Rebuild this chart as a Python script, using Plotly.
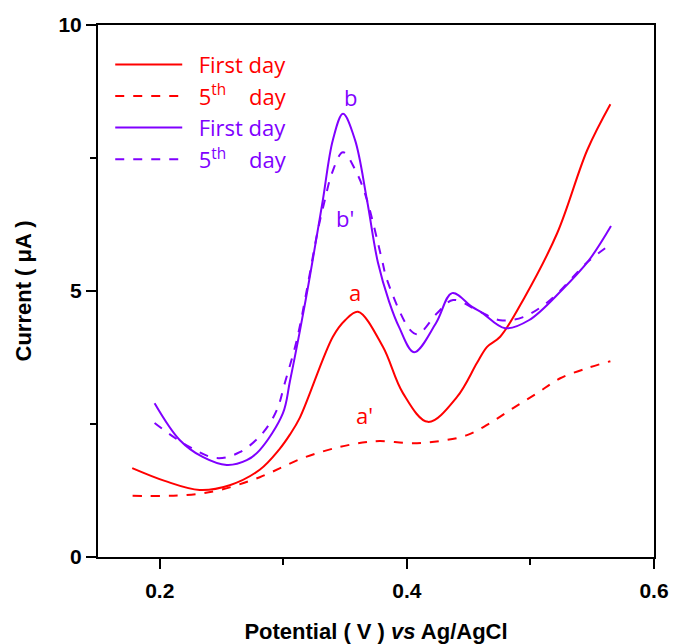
import plotly.graph_objects as go

RED = "#FF0000"
PURPLE = "#8000FF"

# Red solid (a) – first day
a_x = [0.1777, 0.204, 0.2323, 0.2566, 0.2809, 0.2966, 0.3053, 0.3134, 0.3401, 0.350, 0.3604,
       0.3806, 0.3968, 0.4171, 0.4406, 0.4568, 0.4649, 0.4755, 0.4950, 0.5217, 0.546, 0.5647]
a_y = [1.67, 1.43, 1.26, 1.35, 1.64, 2.02, 2.30, 2.62, 4.14, 4.45, 4.61,
       3.95, 3.08, 2.54, 3.01, 3.65, 3.95, 4.14, 4.87, 6.09, 7.65, 8.51]

# Red dashed (a') – 5th day
a2_x = [0.178, 0.2217, 0.2485, 0.2809, 0.3158, 0.3458, 0.3677, 0.378, 0.405, 0.4268,
        0.4487, 0.4674, 0.486, 0.5055, 0.5241, 0.546, 0.5647]
a2_y = [1.15, 1.165, 1.26, 1.50, 1.86, 2.07, 2.16, 2.18, 2.14, 2.18,
        2.29, 2.52, 2.80, 3.08, 3.36, 3.55, 3.68]

# Purple solid (b) – first day
b_x = [0.1958, 0.2161, 0.2347, 0.2542, 0.2704, 0.2809, 0.2996, 0.3053, 0.3134, 0.319,
       0.3239, 0.332, 0.3401, 0.3483, 0.358, 0.3677, 0.3766, 0.3856, 0.3937, 0.4058, 0.4236,
       0.4366, 0.4528, 0.4609, 0.4795, 0.4987, 0.5255, 0.5474, 0.5652]
b_y = [2.89, 2.20, 1.88, 1.73, 1.82, 2.01, 2.70, 3.30, 4.25, 4.95,
       5.60, 6.71, 7.84, 8.33, 7.84, 6.71, 5.53, 4.80, 4.32, 3.85, 4.40,
       4.96, 4.70, 4.59, 4.30, 4.45, 5.02, 5.58, 6.22]

# Purple dashed (b') – 5th day
b2_x = [0.1958, 0.2217, 0.246, 0.2647, 0.2833, 0.2947, 0.3012, 0.3109, 0.319, 0.3279,
        0.3336, 0.3393, 0.3483, 0.3596, 0.3677, 0.3799, 0.3839, 0.4026, 0.409, 0.4244,
        0.4374, 0.4568, 0.4755, 0.4941, 0.516, 0.546, 0.5638]
b2_y = [2.52, 2.10, 1.86, 1.97, 2.33, 2.76, 3.27, 4.08, 5.02, 6.14,
        6.71, 7.21, 7.61, 7.21, 6.71, 5.58, 5.21, 4.27, 4.19, 4.58,
        4.83, 4.64, 4.45, 4.51, 4.83, 5.54, 5.86]

curve_labels = ["a", "a'", "b", "b'"]
label_x = [0.358, 0.366, 0.354, 0.350]
label_y = [4.98, 2.67, 8.65, 6.37]
label_colors = [RED, RED, PURPLE, PURPLE]

legend_first = "&nbsp;&nbsp;First day"
legend_fifth = "&nbsp;&nbsp;5<sup>th</sup>&nbsp;&nbsp;&nbsp;&nbsp;day"

fig = go.Figure()
series = [
    (a_x, a_y, RED, "solid", legend_first),
    (a2_x, a2_y, RED, "dash", legend_fifth),
    (b_x, b_y, PURPLE, "solid", legend_first),
    (b2_x, b2_y, PURPLE, "dash", legend_fifth),
]
for xs, ys, col, dash, name in series:
    fig.add_trace(go.Scatter(
        x=xs, y=ys, mode="lines",
        line=dict(color=col, width=2, dash=dash, shape="spline", smoothing=1.0),
        name=f'<span style="color:{col}">{name}</span>',
    ))

for t, lx, ly, c in zip(curve_labels, label_x, label_y, label_colors):
    fig.add_annotation(x=lx, y=ly, text=t, showarrow=False,
                       font=dict(family="Open Sans", size=22, color=c))

tick_font = dict(family="Liberation Sans", size=21, color="black", weight="bold")
title_font = dict(family="Liberation Sans", size=22, color="black", weight="bold")
fig.update_layout(
    width=674, height=644,
    margin=dict(l=98, r=20, t=25, b=87),
    plot_bgcolor="white", paper_bgcolor="white",
    showlegend=True,
    legend=dict(x=0.022, y=0.965, xanchor="left", yanchor="top",
                bgcolor="rgba(0,0,0,0)", itemwidth=67, tracegroupgap=0,
                font=dict(family="Open Sans", size=22)),
    xaxis=dict(
        range=[0.15, 0.6], tick0=0.2, dtick=0.2, tickformat=".1f",
        showgrid=False, zeroline=False, automargin=False,
        showline=True, linecolor="black", linewidth=2, mirror=True,
        ticks="outside", ticklen=10, tickwidth=2, tickcolor="black",
        ticklabelstandoff=4,
        minor=dict(dtick=0.1, tick0=0.2, ticks="outside", ticklen=6, tickwidth=2, tickcolor="black"),
        tickfont=tick_font,
        title=dict(text="Potential ( V ) <i>vs</i> Ag/AgCl", font=title_font, standoff=22),
    ),
    yaxis=dict(
        range=[0, 10], tick0=0, dtick=5,
        showgrid=False, zeroline=False, automargin=False,
        showline=True, linecolor="black", linewidth=2, mirror=True,
        ticks="outside", ticklen=10, tickwidth=2, tickcolor="black",
        minor=dict(dtick=2.5, ticks="outside", ticklen=6, tickwidth=2, tickcolor="black"),
        tickfont=tick_font,
        title=dict(text="Current ( μA )", font=title_font, standoff=21),
    ),
)

fig.write_html("out.html")
